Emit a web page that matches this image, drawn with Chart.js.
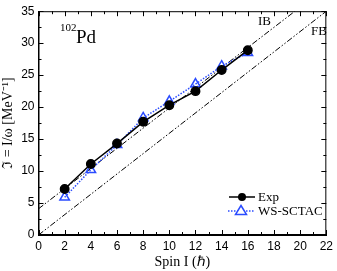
<!DOCTYPE html>
<html><head><meta charset="utf-8">
<script src="https://cdn.jsdelivr.net/npm/chart.js@4"></script>
<style>html,body{margin:0;padding:0;background:#fff}#wrap{width:337px;height:271px}</style>
</head><body><div id="wrap"><canvas id="c" width="337" height="271"></canvas></div>
<script>
const spins = [2,4,6,8,10,12,14,16];
const expValues = [7.2,11.1,14.3,17.7,20.3,22.5,25.8,28.9];
const wsValues = [5.9,10.2,14.1,18.3,20.9,23.6,26.4,28.5];
const ibLineX = [0,19.6];
const ibLineY = [4.1,35];
const fbLineX = [0,22];
const fbLineY = [0,35];
const xTicks = [0,2,4,6,8,10,12,14,16,18,20,22];
const yTicks = [0,5,10,15,20,25,30,35];

const pts = (xs, ys) => xs.map((x,i)=>({x, y: ys[i]}));
const BLUE = '#2b4cff';
const serif = '"Liberation Serif","Times New Roman",serif';
const sans = '"Liberation Sans",Arial,sans-serif';

const decor = {
  id:'decor',
  afterDatasetsDraw(chart){
    const {ctx, chartArea:a, scales:{x,y}} = chart;
    ctx.save();
    ctx.strokeStyle='#000'; ctx.lineWidth=1;
    ctx.strokeRect(a.left+0.5, a.top+0.5, a.right-a.left-1, a.bottom-a.top-1);
    ctx.beginPath();
    for(let v=0; v<=22; v+=1){
      const px=Math.round(x.getPixelForValue(v))+0.5;
      const L = v%2===0?5:3;
      ctx.moveTo(px,a.bottom); ctx.lineTo(px,a.bottom-L);
      ctx.moveTo(px,a.top); ctx.lineTo(px,a.top+L);
    }
    for(let v=0; v<=35; v+=2.5){
      const py=Math.round(y.getPixelForValue(v))+0.5;
      const L = v%5===0?5:3;
      ctx.moveTo(a.left,py); ctx.lineTo(a.left+L,py);
      ctx.moveTo(a.right,py); ctx.lineTo(a.right-L,py);
    }
    ctx.stroke();
    ctx.fillStyle='#000';
    ctx.textBaseline='alphabetic';
    ctx.font='11px '+serif;
    ctx.fillText('102', 60, 31);
    ctx.font='19px '+serif;
    ctx.fillText('Pd', 76, 43);
    ctx.font='13px '+serif;
    ctx.fillText('IB', 258, 25);
    ctx.fillText('FB', 311, 35);
    // legend
    ctx.strokeStyle='#000'; ctx.lineWidth=1.5; ctx.setLineDash([]);
    ctx.beginPath(); ctx.moveTo(229,197); ctx.lineTo(255,197); ctx.stroke();
    ctx.beginPath(); ctx.arc(242,197,4,0,Math.PI*2); ctx.fillStyle='#000'; ctx.fill();
    ctx.strokeStyle=BLUE; ctx.setLineDash([1.5,1.5]);
    ctx.beginPath(); ctx.moveTo(228,211); ctx.lineTo(255,211); ctx.stroke();
    ctx.setLineDash([]);
    ctx.fillStyle='#fff';
    ctx.beginPath(); ctx.moveTo(241,205.5); ctx.lineTo(246.5,214.5); ctx.lineTo(235.5,214.5); ctx.closePath();
    ctx.fill(); ctx.lineWidth=1.5; ctx.stroke();
    ctx.fillStyle='#000';
    ctx.font='13px '+serif;
    ctx.textBaseline='middle';
    ctx.fillText('Exp', 258, 197.5);
    ctx.fillText('WS-SCTAC', 258, 211.5);
    ctx.restore();
  }
};

new Chart(document.getElementById('c'), {
  type:'scatter',
  data:{datasets:[
    {data:pts(fbLineX,fbLineY), showLine:true, borderColor:'#000', borderWidth:1, borderDash:[6,2,1.5,2,1.5,2], pointRadius:0, order:5},
    {data:pts(ibLineX,ibLineY), showLine:true, borderColor:'#000', borderWidth:1, borderDash:[6,2,1.5,2,1.5,2], pointRadius:0, order:4},
    {label:'WS-SCTAC', data:pts(spins,wsValues), showLine:true, borderColor:BLUE, borderWidth:1.5, borderDash:[1.5,1.5],
     pointStyle:'triangle', pointRadius:5.5, pointBackgroundColor:'rgba(255,255,255,0)', pointBorderColor:BLUE, pointBorderWidth:1.5, order:2},
    {label:'Exp', data:pts(spins,expValues), showLine:true, borderColor:'#000', borderWidth:1.5,
     pointStyle:'circle', pointRadius:4.2, pointBackgroundColor:'#000', pointBorderColor:'#000', order:1}
  ]},
  options:{
    responsive:false, animation:false, devicePixelRatio:1,
    layout:{padding:{top:4,right:7,left:0,bottom:0}},
    plugins:{legend:{display:false}, tooltip:{enabled:false}},
    scales:{
      x:{type:'linear', min:0, max:22,
        afterFit(s){s.height=36;},
        afterBuildTicks(s){s.ticks=xTicks.map(v=>({value:v}));},
        grid:{display:false, drawTicks:false},
        border:{display:true,color:'#000'},
        ticks:{padding:4, color:'#000', font:{family:sans,size:12}},
        title:{display:true, text:'Spin I (ℏ)', color:'#000', font:{family:serif,size:14}, padding:{top:1,bottom:0}}
      },
      y:{type:'linear', min:0, max:35,
        afterFit(s){s.width=38.5;},
        afterBuildTicks(s){s.ticks=yTicks.map(v=>({value:v}));},
        grid:{display:false, drawTicks:false},
        border:{display:true,color:'#000'},
        ticks:{padding:4, color:'#000', font:{family:sans,size:12}},
        title:{display:true, text:'ℑ = I/ω [MeV⁻¹]', color:'#000', font:{family:serif,size:14}, padding:{top:0,bottom:0}}
      }
    }
  },
  plugins:[decor]
});
</script></body></html>
